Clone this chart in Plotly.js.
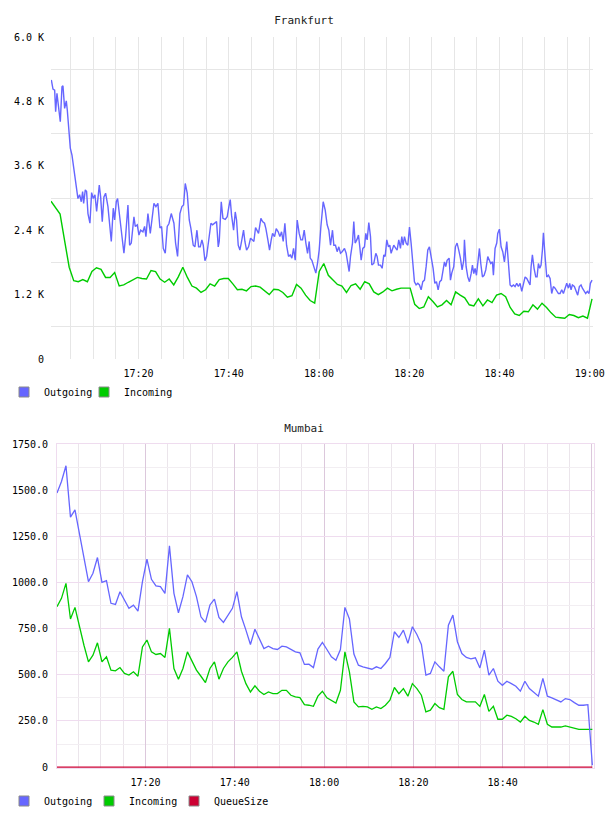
<!DOCTYPE html>
<html><head><meta charset="utf-8">
<script src="https://cdn.plot.ly/plotly-3.0.1.min.js"></script>
<style>html,body{margin:0;padding:0;background:#fff;} #fra,#mum{width:608px;height:408px;}</style>
</head><body><div id="fra"></div><div id="mum"></div>
<script>
// ---------------- DATA ----------------
const DAY = '2024-01-01';
// Frankfurt - Outgoing: sample times (minutes after 17:00) and values
const fraOutMin = [0.67,1.04,1.41,1.63,1.92,2.29,2.66,3.03,3.25,3.62,3.99,4.21,4.51,4.88,5.25,5.62,5.98,6.35,6.57,6.94,7.31,7.61,7.83,8.20,8.49,8.79,9.23,9.60,9.97,10.34,10.71,11.30,11.60,11.96,12.33,12.70,13.22,13.96,14.40,14.70,15.07,15.36,15.80,16.32,16.76,17.13,17.65,18.02,18.39,18.98,19.27,19.72,20.09,20.46,20.97,21.34,21.64,22.08,22.60,23.41,23.85,24.29,24.74,25.11,25.48,25.92,26.36,26.73,27.25,27.84,28.21,28.65,29.17,29.61,29.98,30.35,30.79,
31.24,31.61,32.12,32.49,32.94,33.31,33.67,34.04,34.34,34.71,35.08,35.52,36.04,36.41,36.78,37.29,37.66,37.88,38.33,38.70,39.21,39.65,40.02,40.32,40.61,41.06,41.43,41.72,42.09,42.46,42.83,43.27,43.57,43.94,44.38,44.82,45.19,45.56,45.93,46.30,46.59,47.11,47.48,47.92,48.22,48.66,49.03,49.40,49.70,50.14,50.51,50.95,51.32,51.69,52.06,52.43,52.80,53.24,53.61,53.98,54.35,54.72,55.16,55.60,55.97,56.34,56.71,57.08,57.45,57.82,58.04,58.41,58.92,59.29,59.66,60.03,60.40,60.92,61.36,
61.80,62.17,62.54,62.98,63.28,63.64,64.01,64.38,64.75,65.12,65.64,66.01,66.38,66.67,66.97,67.41,67.70,68.00,68.37,68.74,69.03,69.33,69.70,70.07,70.36,70.66,71.03,71.40,71.69,72.13,72.58,72.87,73.17,73.61,73.98,74.35,74.65,75.01,75.38,75.68,75.97,76.27,76.56,77.01,77.30,77.67,78.04,78.34,78.63,78.93,79.30,79.67,80.04,80.40,80.77,81.14,81.51,81.88,82.25,82.62,82.99,83.36,83.73,84.10,84.46,84.83,85.28,85.65,86.02,86.39,86.75,87.12,87.42,87.79,88.08,88.38,88.82,89.12,89.41,89.85,90.22,90.59,90.96,91.33,91.70,92.07,
92.22,92.59,92.96,93.33,93.70,93.99,94.29,94.58,94.88,95.17,95.54,95.84,96.21,96.58,96.95,97.39,97.76,98.05,98.42,98.64,99.01,99.38,99.60,99.97,100.34,100.71,101.08,101.38,101.60,101.97,102.34,102.70,103.07,103.44,103.81,104.18,104.55,104.92,105.29,105.66,106.03,106.40,106.76,106.99,107.28,107.65,108.02,108.32,108.61,108.91,109.20,109.50,109.72,110.09,110.46,110.83,111.20,111.56,111.93,112.30,112.67,113.04,113.41,113.78,114.15,114.52,114.89,115.26,115.55,115.85,116.14,116.58,116.95,117.32,117.69,118.06,118.36,118.73,119.10,119.46,119.83,120.13,120.50];
const fraOut = [5200,5030,5010,4610,4950,4670,4420,5070,5090,4670,4810,4640,4270,3930,3800,3580,3340,3060,2990,3060,2930,3120,2900,3150,3120,2710,2530,3100,2990,3060,2750,3240,3020,2560,3020,3090,2840,2190,2810,2590,2930,2990,2650,2310,1970,2280,2870,2120,2160,2650,2470,2500,2310,2400,2370,2470,2280,2710,2340,2900,2840,2900,2440,2470,2060,1970,2470,2520,2710,2530,2160,1910,2710,2840,2870,3270,3090,
2590,2430,2120,2090,2400,2090,2090,2220,2120,1830,1910,2220,2530,2500,2530,2560,2090,2190,2930,2620,2600,2650,2840,2970,2680,2400,2740,2590,2120,2030,2190,2400,2190,2030,2090,2250,2220,2190,2450,2400,2340,2620,2560,2530,2430,2220,2030,2220,2340,2280,2430,2370,2280,2370,2190,2530,2120,1910,1940,1880,2060,1840,2590,2340,2220,2220,2400,2160,1970,2190,1880,1840,1720,1600,1780,2030,2460,2930,2780,
2500,2400,2120,2400,2120,2120,2000,2090,1970,2000,2060,1970,1720,1630,1910,2160,2560,2160,2220,2310,2090,1840,2060,2090,2340,2220,2540,2280,1750,1780,1970,1910,1750,1750,1690,1940,1910,2220,2090,2120,1970,2060,2120,2060,2030,2220,2060,2280,2120,2280,2160,2120,2460,2160,1780,1440,1380,1410,1380,1290,1440,1470,1720,2030,2090,1910,1690,1410,1440,1290,1440,1470,1660,1810,1720,1840,1880,1470,1600,1720,2090,2160,2030,1880,1660,1840,
2220,1720,1530,1440,1590,1750,1590,1690,1560,1780,2060,1780,1530,1560,1660,1910,1840,1780,1810,1560,2060,2160,2340,2420,2090,2000,1810,2090,2190,1780,1380,1350,1380,1350,1410,1350,1410,1260,1410,1530,1500,1440,1380,1720,1940,1690,1530,1530,1780,1690,1750,2030,2350,1910,1530,1560,1500,1220,1350,1320,1260,1220,1220,1290,1220,1320,1410,1320,1410,1290,1380,1350,1260,1190,1350,1380,1320,1260,1220,1260,1220,1410,1470];
// Frankfurt - Incoming: one sample about every minute, first at 17:00:36
const fraInStartMin = 0.6;
const fraInStepMin = 1.0075;
const fraIn = [2940,2830,2700,2200,1710,1460,1440,1480,1440,1630,
1700,1670,1520,1520,1610,1360,1380,1430,1470,1520,
1500,1490,1650,1630,1490,1430,1490,1380,1530,1710,
1520,1360,1320,1240,1290,1400,1360,1480,1500,1500,
1400,1290,1300,1270,1350,1360,1340,1270,1200,1300,
1290,1240,1150,1180,1390,1320,1190,1090,1040,1630,
1780,1560,1470,1390,1360,1240,1370,1400,1300,1440,
1400,1250,1200,1250,1320,1270,1300,1320,1320,1320,
1020,940,970,1160,1070,970,1010,1090,1010,1250,
1190,1140,1010,990,1120,990,1100,1050,1190,1220,
1160,960,840,810,890,880,1010,930,1040,960,
860,780,770,760,830,810,770,800,760,1120];
const fraYTicks = [0,1200,2400,3600,4800,6000];
const fraYLabels = ['0','1.2 K','2.4 K','3.6 K','4.8 K','6.0 K'];
const fraYGrid = [600,1800,3000,4200,5400];
const fraXTicks = ['17:20','17:40','18:00','18:20','18:40','19:00'];

// Mumbai: one sample about every minute, first at 17:00:09
const mumStartMin = 0.15;
const mumStepMin = 1.008;
const mumOut = [1484,1547,1632,1354,1393,1267,1140,1004,1050,1135,
1001,1010,887,881,950,905,860,877,845,1004,
1127,1017,981,977,941,1198,941,836,923,1041,
1004,923,814,784,878,910,811,784,823,860,
950,814,742,664,747,697,642,655,642,637,
655,651,637,624,619,556,557,539,639,675,
637,597,579,637,865,802,612,552,543,537,
530,543,534,561,594,733,702,742,670,760,
718,664,498,507,570,543,519,769,823,679,
615,594,586,592,537,633,498,534,465,443,
465,452,438,411,465,425,404,384,480,384,
375,366,353,371,366,349,335,335,338,10];
const mumIn = [869,914,995,802,865,760,660,570,606,673,
570,597,525,521,539,507,498,516,492,651,
688,624,610,615,594,751,534,476,534,624,
570,525,492,458,534,570,476,534,570,594,
624,519,452,407,440,411,393,407,398,398,
416,416,389,380,376,338,335,329,384,411,
375,362,347,416,624,516,353,326,329,326,
313,326,317,335,362,431,398,425,384,452,
425,389,299,308,344,322,313,489,519,393,
366,353,353,353,329,393,302,329,259,259,
281,275,262,244,275,253,244,232,311,232,
217,217,217,223,217,212,204,204,204,204];
const mumQueue = [0,0,0,0,0,0,0,0,0,0,0,0,0,0,0,0,0,0,0,0,
0,0,0,0,0,0,0,0,0,0,0,0,0,0,0,0,0,0,0,0,
0,0,0,0,0,0,0,0,0,0,0,0,0,0,0,0,0,0,0,0,
0,0,0,0,0,0,0,0,0,0,0,0,0,0,0,0,0,0,0,0,
0,0,0,0,0,0,0,0,0,0,0,0,0,0,0,0,0,0,0,0,
0,0,0,0,0,0,0,0,0,0,0,0,0,0,0,0,0,0,0,0];
const mumYTicks = [0,250,500,750,1000,1250,1500,1750];
const mumYLabels = ['0','250.0','500.0','750.0','1000.0','1250.0','1500.0','1750.0'];
const mumYGrid = [125,375,625,875,1125,1375,1625];
const mumXTicks = ['17:20','17:40','18:00','18:20','18:40','19:00'];
const mumXLabels = ['17:20','17:40','18:00','18:20','18:40',''];

// ---------------- HELPERS ----------------
function pad(n){return String(n).padStart(2,'0');}
function clock(mins){
  const ms = Math.round(mins*60000);
  const h = 17 + Math.floor(ms/3600000);
  const m = Math.floor(ms/60000)%60;
  const s = (ms%60000)/1000;
  return DAY+' '+pad(h)+':'+pad(m)+':'+s.toFixed(3).padStart(6,'0');
}
function hm(t){return DAY+' '+t+':00';}
function seq(n,start,step){const a=[];for(let i=0;i<n;i++)a.push(clock(start+i*step));return a;}

const FONT = 'DejaVu Sans Mono, monospace';
const BLUE = '#6666ff', GREEN = '#00cc00', RED = '#cc0033';
function proxy(name,color){
  return {x:[null],y:[null],type:'scatter',mode:'markers',name:name,showlegend:true,
    marker:{symbol:'square',size:10,color:color,line:{color:'#8a8a8a',width:1}},hoverinfo:'skip'};
}
// empty legend slot so the last entry's label has room inside the legend box
function spacer(){
  return {x:[null],y:[null],type:'scatter',mode:'markers',name:' ',showlegend:true,
    marker:{symbol:'square',size:1,color:'rgba(0,0,0,0)',line:{width:0}},hoverinfo:'skip'};
}

// ---------------- FRANKFURT ----------------
const fraTraces = [
  {x:fraOutMin.map(clock),y:fraOut,type:'scatter',mode:'lines',line:{color:BLUE,width:1.4},showlegend:false,name:'Outgoing'},
  {x:seq(fraIn.length,fraInStartMin,fraInStepMin),y:fraIn,type:'scatter',mode:'lines',line:{color:GREEN,width:1.4},showlegend:false,name:'Incoming'},
  proxy('Outgoing',BLUE), proxy('Incoming',GREEN), spacer()
];
const fraLayout = {
  width:608,height:408,margin:{l:51,r:15,t:37,b:49},
  paper_bgcolor:'#fff',plot_bgcolor:'#fff',
  font:{family:FONT,size:10,color:'#000'},
  title:{text:'Frankfurt',font:{family:FONT,size:11,color:'#222'},x:0.5,xref:'container',xanchor:'center',y:1-20/408,yref:'container',yanchor:'middle'},
  xaxis:{type:'date',range:[clock(0.6),clock(120.71)],tickmode:'array',tickvals:fraXTicks.map(hm),ticktext:fraXTicks,
    showgrid:true,gridcolor:'#e6e6e6',gridwidth:1,zeroline:false,showline:false,ticks:'',ticklabelstandoff:7,
    minor:{tickmode:'linear',dtick:300000,tick0:DAY+' 17:00:00',showgrid:true,gridcolor:'#e6e6e6',ticks:''},
    tickfont:{family:FONT,size:10,color:'#000'}},
  yaxis:{range:[0,6000],tickmode:'array',tickvals:fraYTicks,ticktext:fraYLabels,showgrid:false,zeroline:false,showline:false,ticks:'',ticklabelstandoff:6,
    minor:{tickmode:'array',tickvals:fraYGrid,showgrid:true,gridcolor:'#e6e6e6',ticks:''},
    tickfont:{family:FONT,size:10,color:'#000'}},
  legend:{orientation:'h',xref:'container',yref:'container',x:4/608,xanchor:'left',y:1-392/408,yanchor:'middle',
    font:{family:FONT,size:10,color:'#000'},entrywidth:35,bgcolor:'rgba(0,0,0,0)'},
  hovermode:false
};
Plotly.newPlot('fra',fraTraces,fraLayout,{staticPlot:true,displayModeBar:false});

// ---------------- MUMBAI ----------------
const mumX = seq(mumOut.length,mumStartMin,mumStepMin);
const mumTraces = [
  {x:mumX,y:mumQueue,type:'scatter',mode:'lines',line:{color:RED,width:1.4},showlegend:false,name:'QueueSize'},
  {x:mumX,y:mumIn,type:'scatter',mode:'lines',line:{color:GREEN,width:1.3},showlegend:false,name:'Incoming'},
  {x:mumX,y:mumOut,type:'scatter',mode:'lines',line:{color:BLUE,width:1.3},showlegend:false,name:'Outgoing'},
  proxy('Outgoing',BLUE), proxy('Incoming',GREEN), proxy('QueueSize',RED), spacer()
];
const mumLayout = {
  width:608,height:408,margin:{l:57,r:14,t:36,b:48},
  paper_bgcolor:'#fff',plot_bgcolor:'#fff',
  font:{family:FONT,size:10,color:'#000'},
  title:{text:'Mumbai',font:{family:FONT,size:11,color:'#222'},x:0.5,xref:'container',xanchor:'center',y:1-20/408,yref:'container',yanchor:'middle'},
  xaxis:{type:'date',range:[clock(0.157),clock(120.47)],tickmode:'array',tickvals:mumXTicks.map(hm),ticktext:mumXLabels,
    showgrid:true,gridcolor:'#dcc8dc',gridwidth:1,zeroline:false,showline:true,mirror:true,linecolor:'#efdcef',ticks:'',ticklabelstandoff:5,
    minor:{tickmode:'linear',dtick:300000,tick0:DAY+' 17:00:00',showgrid:true,gridcolor:'#ebe5eb',ticks:''},
    tickfont:{family:FONT,size:10,color:'#000'}},
  yaxis:{range:[-5,1750],tickmode:'array',tickvals:mumYTicks,ticktext:mumYLabels,showgrid:true,gridcolor:'#efdcef',zeroline:false,showline:true,mirror:true,linecolor:'#efdcef',ticks:'',ticklabelstandoff:6,
    minor:{tickmode:'array',tickvals:mumYGrid,showgrid:true,gridcolor:'#f2eef2',ticks:''},
    tickfont:{family:FONT,size:10,color:'#000'}},
  legend:{orientation:'h',xref:'container',yref:'container',x:4/608,xanchor:'left',y:1-393/408,yanchor:'middle',
    font:{family:FONT,size:10,color:'#000'},entrywidth:40,bgcolor:'rgba(0,0,0,0)'},
  hovermode:false
};
Plotly.newPlot('mum',mumTraces,mumLayout,{staticPlot:true,displayModeBar:false});
</script></body></html>
